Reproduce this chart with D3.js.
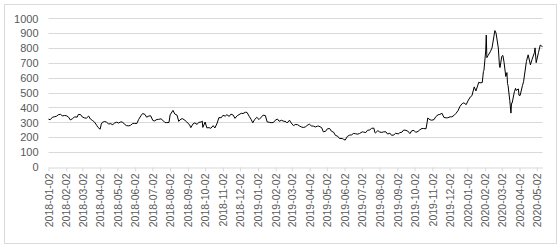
<!DOCTYPE html>
<html>
<head>
<meta charset="utf-8">
<script src="https://cdn.jsdelivr.net/npm/d3@7"></script>
<style>
  body { margin: 0; background: #fff; }
  .tick-label { font-family: "Liberation Sans", Arial, sans-serif; fill: #595959; }
</style>
</head>
<body>
<div id="chart-container"></div>
<script>
// closing prices (weekly-ish samples plus the sharp moves)
const dates = [
  "2018-01-02","2018-01-05","2018-01-09","2018-01-12","2018-01-16","2018-01-19","2018-01-23","2018-01-26","2018-01-30",
  "2018-02-02","2018-02-06","2018-02-09","2018-02-13","2018-02-16","2018-02-21","2018-02-23","2018-02-27",
  "2018-03-02","2018-03-06","2018-03-09","2018-03-13","2018-03-16","2018-03-20","2018-03-23","2018-03-27","2018-03-29",
  "2018-04-02","2018-04-04","2018-04-06","2018-04-10","2018-04-13","2018-04-17","2018-04-20","2018-04-24","2018-04-27",
  "2018-05-01","2018-05-04","2018-05-08","2018-05-11","2018-05-15","2018-05-18","2018-05-22","2018-05-25","2018-05-29",
  "2018-06-01","2018-06-05","2018-06-08","2018-06-12","2018-06-15","2018-06-19","2018-06-22","2018-06-26","2018-06-29",
  "2018-07-03","2018-07-06","2018-07-10","2018-07-13","2018-07-17","2018-07-20","2018-07-24","2018-07-27","2018-07-31",
  "2018-08-02","2018-08-07","2018-08-10","2018-08-14","2018-08-17","2018-08-21","2018-08-24","2018-08-28","2018-08-31",
  "2018-09-05","2018-09-07","2018-09-11","2018-09-14","2018-09-18","2018-09-21","2018-09-25","2018-09-27","2018-09-28",
  "2018-10-02","2018-10-05","2018-10-09","2018-10-12","2018-10-16","2018-10-19","2018-10-23","2018-10-26","2018-10-30",
  "2018-11-02","2018-11-06","2018-11-09","2018-11-13","2018-11-16","2018-11-20","2018-11-23","2018-11-27","2018-11-30",
  "2018-12-04","2018-12-07","2018-12-11","2018-12-14","2018-12-18","2018-12-21","2018-12-24","2018-12-27","2018-12-31",
  "2019-01-04","2019-01-08","2019-01-11","2019-01-15","2019-01-18","2019-01-22","2019-01-25","2019-01-29",
  "2019-02-01","2019-02-05","2019-02-08","2019-02-12","2019-02-15","2019-02-20","2019-02-22","2019-02-26",
  "2019-03-01","2019-03-05","2019-03-08","2019-03-12","2019-03-15","2019-03-19","2019-03-22","2019-03-26","2019-03-29",
  "2019-04-02","2019-04-05","2019-04-09","2019-04-12","2019-04-16","2019-04-18","2019-04-23","2019-04-26","2019-04-30",
  "2019-05-03","2019-05-07","2019-05-10","2019-05-14","2019-05-17","2019-05-21","2019-05-24","2019-05-29","2019-05-31",
  "2019-06-03","2019-06-07","2019-06-11","2019-06-14","2019-06-18","2019-06-21","2019-06-25","2019-06-28",
  "2019-07-03","2019-07-05","2019-07-09","2019-07-12","2019-07-16","2019-07-19","2019-07-23","2019-07-25","2019-07-26","2019-07-30",
  "2019-08-02","2019-08-06","2019-08-09","2019-08-13","2019-08-16","2019-08-20","2019-08-23","2019-08-27","2019-08-30",
  "2019-09-04","2019-09-06","2019-09-10","2019-09-13","2019-09-17","2019-09-20","2019-09-24","2019-09-27",
  "2019-10-01","2019-10-04","2019-10-08","2019-10-11","2019-10-15","2019-10-18","2019-10-22","2019-10-24","2019-10-25","2019-10-29",
  "2019-11-01","2019-11-05","2019-11-08","2019-11-12","2019-11-15","2019-11-19","2019-11-22","2019-11-26","2019-11-29",
  "2019-12-03","2019-12-06","2019-12-10","2019-12-13","2019-12-17","2019-12-20","2019-12-24","2019-12-27","2019-12-31",
  "2020-01-03","2020-01-07","2020-01-10","2020-01-14","2020-01-17","2020-01-22","2020-01-24","2020-01-28","2020-01-30","2020-01-31",
  "2020-02-03","2020-02-04","2020-02-05","2020-02-07","2020-02-11","2020-02-14","2020-02-19","2020-02-21","2020-02-25","2020-02-27","2020-02-28",
  "2020-03-02","2020-03-04","2020-03-06","2020-03-09","2020-03-11","2020-03-12","2020-03-13","2020-03-16","2020-03-18","2020-03-19","2020-03-20",
  "2020-03-24","2020-03-26","2020-03-27","2020-03-31",
  "2020-04-01","2020-04-03","2020-04-07","2020-04-09","2020-04-14","2020-04-17","2020-04-21","2020-04-24","2020-04-28","2020-04-29",
  "2020-05-01","2020-05-05","2020-05-08","2020-05-11","2020-05-12"
];

const closes = [
  320.5,316.6,333.7,336.2,340.1,350.0,352.8,342.9,345.0,
  343.8,334.0,315.2,323.7,335.5,334.1,352.1,351.0,
  335.1,328.2,327.2,341.2,321.4,310.6,301.5,279.2,266.1,
  252.5,286.9,299.3,304.7,300.3,287.7,290.2,283.5,294.1,
  299.9,294.1,302.0,301.1,284.2,276.8,275.0,278.9,291.7,
  291.8,291.1,317.7,342.8,358.2,352.6,333.6,342.0,343.0,
  310.9,308.9,318.5,318.9,322.7,313.6,297.4,297.2,298.1,
  349.5,379.6,355.5,347.6,305.5,321.6,322.8,311.9,301.7,
  280.7,263.2,289.0,295.2,285.0,299.1,301.0,307.5,264.8,
  301.0,262.0,262.8,258.8,276.6,261.0,294.1,330.9,329.9,
  346.0,341.1,350.5,338.7,354.3,347.5,325.8,343.9,350.5,
  360.0,358.0,366.8,365.7,338.2,319.8,295.4,316.1,332.8,
  317.7,334.4,347.3,344.4,302.3,298.9,297.0,297.9,
  312.2,321.4,305.8,312.9,307.9,302.6,294.7,313.3,
  294.8,276.6,284.1,283.4,275.4,267.5,264.5,267.8,279.9,
  285.9,275.0,273.2,267.8,273.4,273.3,263.9,235.1,238.7,
  255.0,257.6,239.5,232.3,211.0,205.4,190.6,189.9,185.2,
  179.0,204.5,213.0,213.9,224.7,221.9,219.6,223.5,
  234.9,233.1,230.1,245.1,248.0,258.2,260.2,228.8,228.0,243.0,
  234.3,230.8,235.0,235.0,219.9,225.9,211.4,214.1,225.6,
  220.7,229.6,232.4,247.1,244.8,240.6,222.7,242.1,
  244.7,231.4,237.7,247.9,257.9,257.0,255.6,299.7,328.1,316.2,
  313.3,317.5,337.1,349.9,352.2,359.5,333.0,328.9,329.9,
  336.2,335.9,346.4,358.4,379.0,405.6,425.3,430.4,418.3,
  443.0,469.1,478.2,537.9,510.5,569.6,564.8,566.9,640.8,650.6,
  780.0,887.1,734.7,748.1,774.4,800.0,917.4,901.0,799.9,679.0,668.0,
  743.6,749.5,703.5,608.0,634.2,560.6,546.6,445.1,361.2,427.6,427.5,
  505.0,528.2,514.4,524.0,
  481.6,480.0,545.5,573.0,709.9,753.9,686.7,725.2,769.1,800.5,
  701.3,768.9,819.4,811.3,809.4
];

const yTicks = [0, 100, 200, 300, 400, 500, 600, 700, 800, 900, 1000];

const xTickLabels = [
  "2018-01-02","2018-02-02","2018-03-02","2018-04-02","2018-05-02","2018-06-02","2018-07-02","2018-08-02",
  "2018-09-02","2018-10-02","2018-11-02","2018-12-02","2019-01-02","2019-02-02","2019-03-02","2019-04-02",
  "2019-05-02","2019-06-02","2019-07-02","2019-08-02","2019-09-02","2019-10-02","2019-11-02","2019-12-02",
  "2020-01-02","2020-02-02","2020-03-02","2020-04-02","2020-05-02"
];

document.addEventListener("DOMContentLoaded", () => {
    const W = 559, H = 247;
    const parseDate = d3.timeParse("%Y-%m-%d");

    const info = dates.map((d, i) => ({ date: parseDate(d), price: closes[i] }));

    const svg = d3.select("#chart-container")
        .append("svg")
        .attr("width", W)
        .attr("height", H);

    // chart area border
    svg.append("rect")
        .attr("x", 4.5).attr("y", 4.5)
        .attr("width", 552).attr("height", 239)
        .attr("fill", "#fff")
        .attr("stroke", "#d9d9d9");

    const x = d3.scaleTime()
        .domain(d3.extent(info, d => d.date))
        .range([48.5, 542.5]);

    const y = d3.scaleLinear()
        .domain([0, 1000])
        .range([166.7, 18.3]);

    // horizontal gridlines
    svg.append("g")
        .selectAll("line")
        .data(yTicks.filter(t => t > 0))
        .enter().append("line")
        .attr("x1", x.range()[0]).attr("x2", x.range()[1])
        .attr("y1", d => Math.round(y(d)) + 0.5)
        .attr("y2", d => Math.round(y(d)) + 0.5)
        .attr("stroke", "#d9d9d9");

    // y axis labels
    const yAxis = svg.append("g")
        .attr("transform", "translate(" + (x.range()[0] - 10) + ",0)")
        .call(d3.axisLeft(y).tickValues(yTicks).tickFormat(d3.format("d")).tickSize(0).tickPadding(0));
    yAxis.select(".domain").remove();
    yAxis.selectAll("text")
        .attr("class", "tick-label")
        .style("font-size", "11px")
        .attr("dy", "0.35em");

    // x axis, one tick per month label
    const xTicks = xTickLabels.map(parseDate);
    const xAxis = svg.append("g")
        .attr("transform", "translate(0," + (Math.round(y(0)) + 0.5) + ")")
        .call(d3.axisBottom(x).tickValues(xTicks).tickSizeOuter(0).tickSizeInner(4)
            .tickFormat(d3.timeFormat("%Y-%m-%d")));
    xAxis.select(".domain").attr("stroke", "#d9d9d9");
    xAxis.selectAll(".tick line").attr("stroke", "#d9d9d9");
    xAxis.selectAll("text")
        .attr("class", "tick-label")
        .style("font-size", "10.5px")
        .attr("text-anchor", "end")
        .attr("transform", "rotate(-90)")
        .attr("x", -6)
        .attr("y", 0)
        .attr("dy", "0.35em");

    const line = d3.line()
        .x(d => x(d.date))
        .y(d => y(d.price));

    svg.append("path")
        .datum(info)
        .attr("fill", "none")
        .attr("stroke", "#000")
        .attr("stroke-width", 1)
        .attr("stroke-linejoin", "round")
        .attr("d", line);
});
</script>
</body>
</html>
